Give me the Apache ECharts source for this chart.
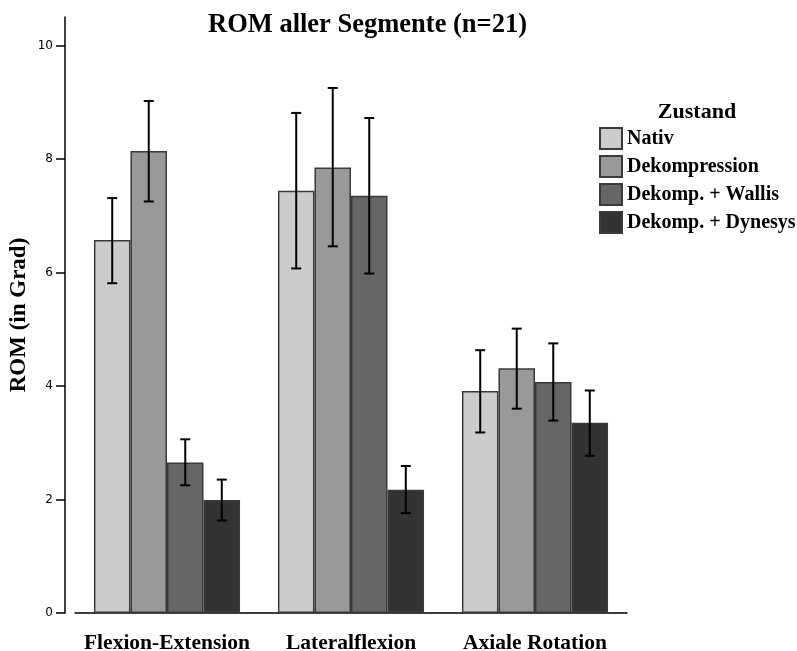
<!DOCTYPE html>
<html>
<head>
<meta charset="utf-8">
<script src="https://cdn.jsdelivr.net/npm/echarts@6/dist/echarts.min.js"></script>
<style>html,body{margin:0;padding:0;background:#fff}#chart{width:797px;height:651px}</style>
</head>
<body>
<div id="chart"></div>
<script>
var categories = ['Flexion-Extension', 'Lateralflexion', 'Axiale Rotation'];
var seriesNames = ['Nativ', 'Dekompression', 'Dekomp. + Wallis', 'Dekomp. + Dynesys'];
var nativ = [6.57, 7.44, 3.91];
var nativLow = [5.81, 6.07, 3.18];
var nativHigh = [7.31, 8.81, 4.63];
var dekompression = [8.14, 7.85, 4.31];
var dekompressionLow = [7.25, 6.46, 3.60];
var dekompressionHigh = [9.02, 9.25, 5.01];
var wallis = [2.65, 7.35, 4.07];
var wallisLow = [2.25, 5.98, 3.39];
var wallisHigh = [3.06, 8.72, 4.75];
var dynesys = [1.99, 2.17, 3.35];
var dynesysLow = [1.63, 1.76, 2.77];
var dynesysHigh = [2.35, 2.59, 3.92];
var yTicks = [0, 2, 4, 6, 8, 10];
var colors = ['#cccccc', '#999999', '#666666', '#333333'];

var means = [nativ, dekompression, wallis, dynesys];
var lows = [nativLow, dekompressionLow, wallisLow, dynesysLow];
var highs = [nativHigh, dekompressionHigh, wallisHigh, dynesysHigh];

var gapRatio = 0.206;
var serif = '"Liberation Serif", "Times New Roman", serif';

var series = [];
means.forEach(function (vals, i) {
  series.push({
    name: seriesNames[i],
    type: 'bar',
    data: vals,
    barGap: '0%',
    barCategoryGap: (gapRatio * 100) + '%',
    itemStyle: { color: colors[i], borderColor: '#3a3a3a', borderWidth: 1.5 },
    emphasis: { disabled: true }
  });
});
means.forEach(function (vals, i) {
  series.push({
    name: 'err' + i,
    type: 'custom',
    z: 10,
    silent: true,
    data: vals.map(function (v, k) { return [k, lows[i][k], highs[i][k]]; }),
    renderItem: function (params, api) {
      var cat = api.value(0);
      var lo = api.coord([cat, api.value(1)]);
      var hi = api.coord([cat, api.value(2)]);
      var band = api.size([1, 0])[0];
      var bw = band * (1 - gapRatio) / 4;
      var x = lo[0] + (i - 1.5) * bw;
      var cap = 5;
      var st = { stroke: '#000', lineWidth: 2, fill: null };
      return {
        type: 'group',
        children: [
          { type: 'line', shape: { x1: x, y1: hi[1], x2: x, y2: lo[1] }, style: st },
          { type: 'line', shape: { x1: x - cap, y1: hi[1], x2: x + cap, y2: hi[1] }, style: st },
          { type: 'line', shape: { x1: x - cap, y1: lo[1], x2: x + cap, y2: lo[1] }, style: st }
        ]
      };
    }
  });
});

var chart = echarts.init(document.getElementById('chart'), null, { renderer: 'canvas' });
chart.setOption({
  backgroundColor: '#fff',
  animation: false,
  title: {
    text: 'ROM aller Segmente (n=21)',
    left: 208,
    top: 12,
    padding: 0,
    textStyle: { fontFamily: serif, fontWeight: 'bold', fontSize: 26.5, color: '#000' }
  },
  graphic: [{
    type: 'text',
    x: 697,
    y: 112,
    style: {
      text: 'Zustand',
      fontFamily: serif,
      fontWeight: 'bold',
      fontSize: 22,
      fill: '#000',
      textAlign: 'center',
      textVerticalAlign: 'middle'
    }
  }],
  legend: {
    data: seriesNames,
    orient: 'vertical',
    left: 599,
    top: 127,
    padding: 0,
    itemWidth: 22,
    itemHeight: 21,
    itemGap: 5,
    icon: 'rect',
    selectedMode: false,
    textStyle: { fontFamily: serif, fontWeight: 'bold', fontSize: 20, color: '#000' }
  },
  grid: { left: 75, right: 170, top: 17, bottom: 38, containLabel: false, outerBoundsMode: 'none' },
  xAxis: {
    type: 'category',
    data: categories,
    axisLine: { lineStyle: { color: '#000', width: 1.5 } },
    axisTick: { alignWithLabel: true, length: 10, lineStyle: { color: '#000', width: 1.5 } },
    axisLabel: { interval: 0, fontFamily: serif, fontWeight: 'bold', fontSize: 21.5, color: '#000', margin: 19 },
    splitLine: { show: false }
  },
  yAxis: {
    type: 'value',
    min: 0,
    max: 10.5,
    offset: 10,
    name: 'ROM (in Grad)',
    nameLocation: 'middle',
    nameRotate: 90,
    nameGap: 34,
    nameMoveOverlap: false,
    nameTextStyle: { fontFamily: serif, fontWeight: 'bold', fontSize: 23, color: '#000' },
    axisLine: { show: true, lineStyle: { color: '#000', width: 1.5 } },
    axisTick: { show: true, length: 9, customValues: yTicks, lineStyle: { color: '#000', width: 1.5 } },
    axisLabel: { customValues: yTicks, margin: 12, fontFamily: '"DejaVu Sans", sans-serif', fontSize: 12, color: '#000' },
    splitLine: { show: false }
  },
  series: series
});
</script>
</body>
</html>
